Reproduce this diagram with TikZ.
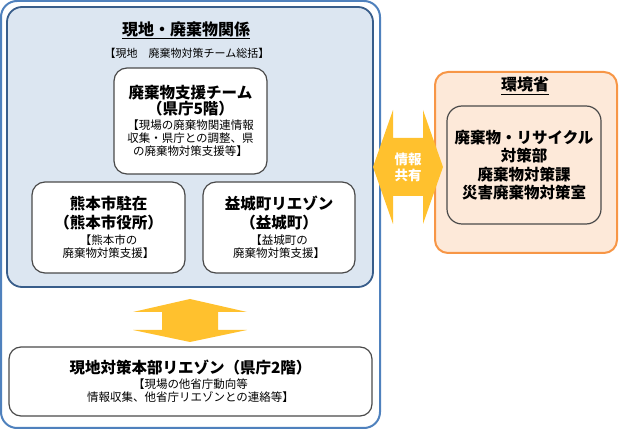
\documentclass[tikz,border=0pt]{standalone}
\usepackage{fontspec}
\setmainfont{Noto Sans CJK JP}
\usetikzlibrary{positioning}

\definecolor{outerblue}{HTML}{4F81BD}
\definecolor{fieldline}{HTML}{385D8A}
\definecolor{fieldfill}{HTML}{DCE6F1}
\definecolor{boxgray}{HTML}{4A4A4A}
\definecolor{moeorange}{HTML}{F79646}
\definecolor{moefill}{HTML}{FDE9D9}
\definecolor{arrowgold}{HTML}{FFC12E}

\newcommand{\unitname}[1]{{\bfseries\fontsize{15.5}{18}\selectfont #1}}

\begin{document}
\begin{tikzpicture}[x=1pt, y=-1pt,
    outerbox/.style={draw=outerblue, line width=2pt, rounded corners=16pt, fill=white, outer sep=0pt},
    fieldbox/.style={draw=fieldline, line width=1.8pt, rounded corners=15pt, fill=fieldfill, outer sep=0pt},
    unitbox/.style={draw=boxgray, line width=1.2pt, rounded corners=13pt, fill=white, align=center,
        inner sep=0pt, font=\fontsize{11.5}{13}\selectfont},
    moebox/.style={draw=moeorange, line width=2pt, rounded corners=13pt, fill=moefill},
    moeunit/.style={unitbox, fill=none, font=\bfseries\fontsize{15.5}{18.5}\selectfont},
    heading/.style={font=\bfseries\fontsize{16}{19}\selectfont, anchor=base},
    note/.style={font=\fontsize{11}{13}\selectfont},
    bigarrow/.style={fill=arrowgold},
    sharetext/.style={font=\bfseries\fontsize{13.5}{16}\selectfont, text=white, align=center}
]
\useasboundingbox (0,0) rectangle (619,430);

% Local side
\node[outerbox, minimum width=379pt, minimum height=427pt] (local) at (190.5,214.5) {};
\node[fieldbox, minimum width=366pt, minimum height=280pt] (field) at (190,147) {};
\node[heading] (fieldtitle) at (186,35.5) {\underline{現地・廃棄物関係}};
\node[note] (fieldnote) at (187,53) {【現地　廃棄物対策チーム総括】};

% Teams
\node[unitbox, minimum width=153pt, minimum height=106pt] (team) at (190.5,121)
    {\unitname{廃棄物支援チーム}\\\unitname{（県庁5階）}\\[2pt]【現場の廃棄物関連情報\\収集・県庁との調整、県\\の廃棄物対策支援等】};
\node[unitbox, minimum width=153pt, minimum height=91pt] (kumamoto) at (108.5,227.5)
    {\unitname{熊本市駐在}\\[3pt]\unitname{（熊本市役所）}\\[3pt]【熊本市の\\廃棄物対策支援】};
\node[unitbox, minimum width=152pt, minimum height=91pt] (mashiki) at (279,227.5)
    {\unitname{益城町リエゾン}\\[3pt]\unitname{（益城町）}\\[3pt]【益城町の\\廃棄物対策支援】};
\node[unitbox, rounded corners=12pt, minimum width=363pt, minimum height=69pt] (liaison) at (190.5,381.5)
    {\unitname{現地対策本部リエゾン（県庁2階）}\\[2pt]【現場の他省庁動向等\\情報収集、他省庁リエゾンとの連絡等】};

% Ministry of the Environment
\node[moebox, minimum width=182pt, minimum height=181pt] (moe) at (526,162.5) {};
\node[heading] (moetitle) at (525,91) {\underline{環境省}};
\node[moeunit, rounded corners=15pt, minimum width=154pt, minimum height=118pt] (moeunit) at (524,165)
    {廃棄物・リサイクル\\対策部\\廃棄物対策課\\災害廃棄物対策室};

% Arrows
\coordinate (sharec) at (408,167);
\fill[bigarrow] (field.east |- sharec) -- ++(20,-57) -- ++(0,28) -- ++(30,0) -- ++(0,-28)
    -- ++(20,57) -- ++(-20,57) -- ++(0,-28) -- ++(-30,0) -- ++(0,28) -- cycle;
\node[sharetext] (share) at (sharec) {情報\\共有};
\fill[bigarrow] (field.south) ++(0,12) -- ++(57,13) -- ++(-29,0) -- ++(0,18) -- ++(29,0)
    -- ++(-57,12) -- ++(-57,-12) -- ++(29,0) -- ++(0,-18) -- ++(-29,0) -- cycle;

\end{tikzpicture}
\end{document}
